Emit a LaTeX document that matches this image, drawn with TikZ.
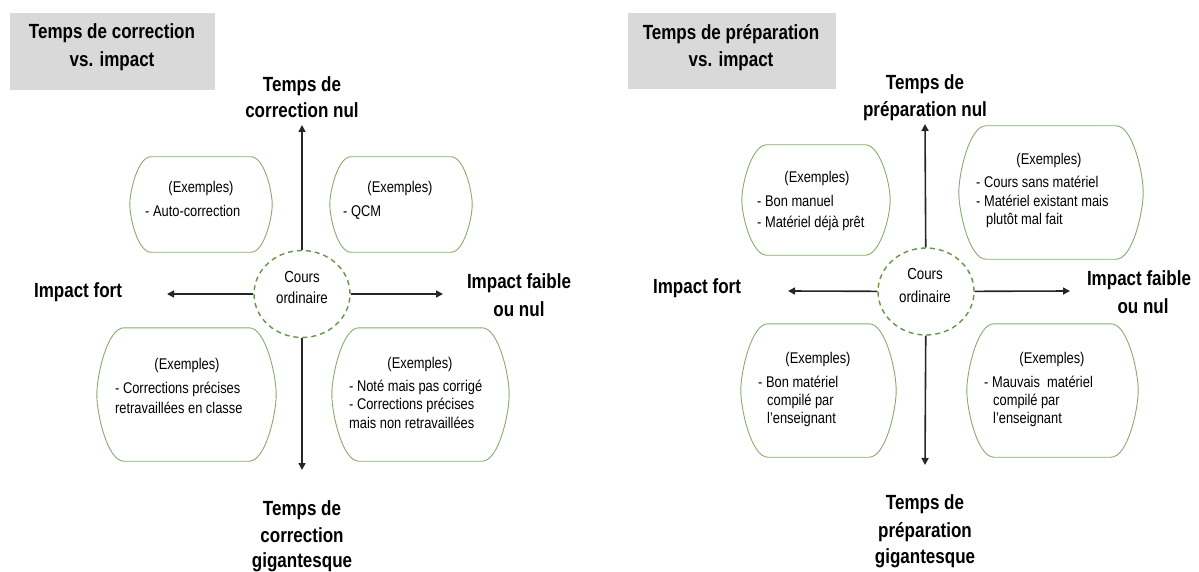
\documentclass[tikz,border=0pt]{standalone}
\usepackage{fontspec}
\setmainfont{Liberation Sans}[FakeStretch=0.83]
\usetikzlibrary{arrows.meta,shapes.geometric}
\definecolor{boxgreen}{RGB}{135,172,110}
\definecolor{circgreen}{RGB}{100,150,70}
\definecolor{titlegray}{RGB}{217,217,217}
\tikzset{
 lbl/.style={anchor=base, inner sep=0pt, font=\fontsize{20.5}{25}\selectfont\bfseries},
 ctr/.style={anchor=base, inner sep=0pt, font=\fontsize{16}{19}\selectfont},
 exc/.style={anchor=base, inner sep=0pt, font=\fontsize{15.5}{18}\selectfont},
 exl/.style={anchor=base west, inner sep=0pt, font=\fontsize{15.5}{18}\selectfont},
 boxline/.style={draw=boxgreen, line width=0.9pt},
 hub/.style={ellipse, draw=circgreen, dash pattern=on 5pt off 4pt, line width=1.4pt, minimum width=96pt, minimum height=87pt, inner sep=0pt},
 arr/.style={-{Triangle[length=7pt,width=7pt]}, line width=1.6pt, draw=black!85},
 titlebox/.style={fill=titlegray, inner sep=0pt}
}
% #1 name, #2 x1, #3 y1, #4 x2, #5 y2, #6 corner run
\newcommand\exbox[6]{%
 \node[inner sep=0pt, minimum width={#4-#2}, minimum height={#5-#3}] (#1) at ({(#2+#4)/2},{(#3+#5)/2}) {};
 \draw[boxline] ([xshift=#6]#1.north west) -- ([xshift=-#6]#1.north east)
   .. controls ([xshift={-0.4*#6}]#1.north east) and ([yshift={0.3*(#5-#3)/2}]#1.east) .. (#1.east)
   .. controls ([yshift={-0.3*(#5-#3)/2}]#1.east) and ([xshift={-0.4*#6}]#1.south east) .. ([xshift=-#6]#1.south east)
   -- ([xshift=#6]#1.south west)
   .. controls ([xshift={0.4*#6}]#1.south west) and ([yshift={-0.3*(#5-#3)/2}]#1.west) .. (#1.west)
   .. controls ([yshift={0.3*(#5-#3)/2}]#1.west) and ([xshift={0.4*#6}]#1.north west) .. ([xshift=#6]#1.north west)
   -- cycle;}
\begin{document}
\begin{tikzpicture}[x=1pt,y=-1pt]
\useasboundingbox (0,0) rectangle (1199,572);
% ================= LEFT PANEL =================
\node[titlebox, minimum width=205pt, minimum height=77pt] (tbL) at (112.5,51.5) {};
\node[lbl] (tL1) at (112,39) {Temps de correction};
\node[lbl] (tL2) at (112,67) {vs. impact};

\node[hub] (cL) at (302,294) {};
\node[ctr] (cL1) at (302,282) {Cours};
\node[ctr] (cL2) at (302,303) {ordinaire};

\coordinate (upL) at (302,125);
\coordinate (dnL) at (302,470);
\coordinate (lfL) at (167,294);
\coordinate (rtL) at (443,294);
\draw[arr] (cL) -- (upL);
\draw[arr] (cL) -- (dnL);
\draw[arr] (cL) -- (lfL);
\draw[arr] (cL) -- (rtL);

\node[lbl] (uL1) at (302,92) {Temps de};
\node[lbl] (uL2) at (302,118) {correction nul};
\node[lbl] (dL1) at (302,515) {Temps de};
\node[lbl] (dL2) at (302,542) {correction};
\node[lbl] (dL3) at (302,567) {gigantesque};
\node[lbl] (lL1) at (78,297) {Impact fort};
\node[lbl] (rL1) at (519,288) {Impact faible};
\node[lbl] (rL2) at (519,316) {ou nul};

\exbox{B1}{130}{157}{272}{252}{21}
\node[exc] (B1a) at (201,193) {(Exemples)};
\node[exl] (B1b) at (145,217) {- Auto-correction};

\exbox{B2}{330}{157}{472}{252}{21}
\node[exc] (B2a) at (400,193) {(Exemples)};
\node[exl] (B2b) at (343,217) {- QCM};

\exbox{B3}{97}{328}{276}{461}{27}
\node[exc] (B3a) at (187,369) {(Exemples)};
\node[exl] (B3b) at (115,393) {- Corrections précises};
\node[exl] (B3c) at (115,413) {retravaillées en classe};

\exbox{B4}{332}{328}{509}{461}{27}
\node[exc] (B4a) at (420,368) {(Exemples)};
\node[exl] (B4b) at (349,391) {- Noté mais pas corrigé};
\node[exl] (B4c) at (349,409) {- Corrections précises};
\node[exl] (B4d) at (349,428) {mais non retravaillées};

% ================= RIGHT PANEL =================
\node[titlebox, minimum width=208pt, minimum height=76pt] (tbR) at (732,51) {};
\node[lbl] (tR1) at (731,40) {Temps de préparation};
\node[lbl] (tR2) at (731,67) {vs. impact};

\node[hub] (cR) at (926,291.5) {};
\node[ctr] (cR1) at (925,279) {Cours};
\node[ctr] (cR2) at (925,302) {ordinaire};

\coordinate (upR) at (925,124);
\coordinate (dnR) at (925,465);
\coordinate (lfR) at (788,291);
\coordinate (rtR) at (1070,291);
\draw[arr] (cR) -- (upR);
\draw[arr] (cR) -- (dnR);
\draw[arr] (cR) -- (lfR);
\draw[arr] (cR) -- (rtR);

\node[lbl] (uR1) at (925,90) {Temps de};
\node[lbl] (uR2) at (925,117) {préparation nul};
\node[lbl] (dR1) at (925,509) {Temps de};
\node[lbl] (dR2) at (925,537) {préparation};
\node[lbl] (dR3) at (925,563) {gigantesque};
\node[lbl] (lR1) at (697,293) {Impact fort};
\node[lbl] (rR1) at (1139,285) {Impact faible};
\node[lbl] (rR2) at (1143,313) {ou nul};

\exbox{R1}{742}{145}{890}{255}{25}
\node[exc] (R1a) at (817,183) {(Exemples)};
\node[exl] (R1b) at (757,207) {- Bon manuel};
\node[exl] (R1c) at (757,228) {- Matériel déjà prêt};

\exbox{R2}{959}{126}{1143}{259}{27}
\node[exc] (R2a) at (1049,165) {(Exemples)};
\node[exl] (R2b) at (976,188) {- Cours sans matériel};
\node[exl] (R2c) at (976,207) {- Matériel existant mais};
\node[exl] (R2d) at (986,225) {plutôt mal fait};

\exbox{R3}{741}{324}{896}{457}{27}
\node[exc] (R3a) at (818,363) {(Exemples)};
\node[exl] (R3b) at (758,387) {- Bon matériel};
\node[exl] (R3c) at (767,405) {compilé par};
\node[exl] (R3d) at (767,423) {l’enseignant};

\exbox{R4}{967}{324}{1138}{457}{27}
\node[exc] (R4a) at (1052,363) {(Exemples)};
\node[exl] (R4b) at (984,387) {- Mauvais~ matériel};
\node[exl] (R4c) at (993,405) {compilé par};
\node[exl] (R4d) at (993,423) {l’enseignant};
\end{tikzpicture}
\end{document}
